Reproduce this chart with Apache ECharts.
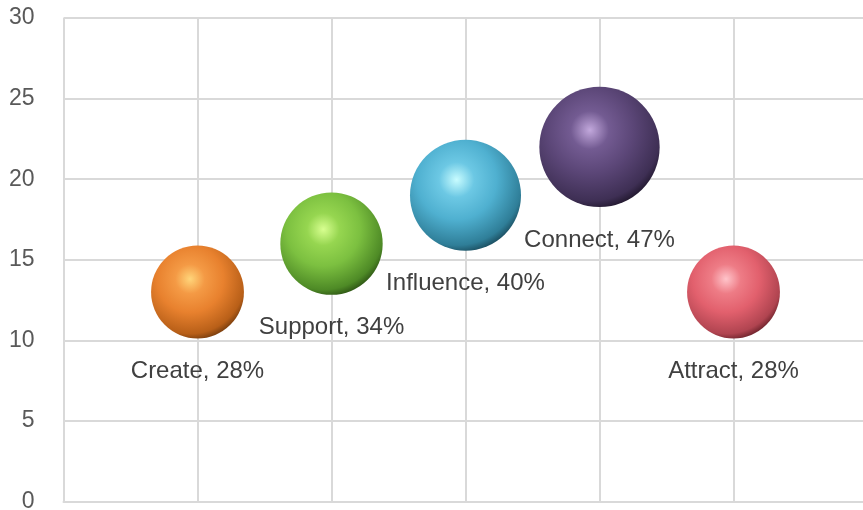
<!DOCTYPE html>
<html>
<head>
<meta charset="utf-8">
<script src="https://cdn.jsdelivr.net/npm/echarts@6/dist/echarts.min.js"></script>
<style>html,body{margin:0;padding:0;background:#fff;}#c{width:863px;height:510px;}</style>
</head>
<body>
<div id="c"></div>
<script>
var names = ['Create', 'Support', 'Influence', 'Connect', 'Attract'];
var xValues = [1, 2, 3, 4, 5];
var yValues = [13, 16, 19, 22, 13];
var sizes = [28, 34, 40, 47, 28];
var yTicks = [0, 5, 10, 15, 20, 25, 30];

var palette = [
  ['#ffd57a', '#f49a45', '#e8812e', '#b85f18', '#4a2406'],
  ['#d8ff90', '#96d650', '#7cc040', '#4e8a26', '#173008'],
  ['#c8fcff', '#6cc8e4', '#4fb0d0', '#2f7e98', '#0c2a36'],
  ['#c2a8dc', '#735b92', '#5b4677', '#3e2f54', '#0e0814'],
  ['#ffc4ca', '#ee7c86', '#e2606d', '#b04450', '#3e0c12']
];

function sphere(c) {
  return new echarts.graphic.RadialGradient(0.42, 0.36, 0.72, [
    { offset: 0, color: c[0] },
    { offset: 0.22, color: c[1] },
    { offset: 0.5, color: c[2] },
    { offset: 0.82, color: c[3] },
    { offset: 1, color: c[4] }
  ]);
}

var data = names.map(function (n, i) {
  return {
    name: n,
    value: [xValues[i], yValues[i], sizes[i]],
    itemStyle: { color: sphere(palette[i]), opacity: 1 }
  };
});

var FONT = "'Liberation Sans', Arial, sans-serif";

var chart = echarts.init(document.getElementById('c'), null, { renderer: 'canvas' });
chart.setOption({
  animation: false,
  backgroundColor: '#fff',
  grid: { left: 63.5, top: 18, bottom: 8.5, width: 804, containLabel: false, outerBoundsMode: 'none' },
  xAxis: {
    type: 'value', min: 0, max: 6, interval: 1,
    axisLine: { show: true, lineStyle: { color: '#d9d9d9', width: 2 } },
    axisTick: { show: false },
    axisLabel: { show: false },
    splitLine: { show: true, lineStyle: { color: '#d9d9d9', width: 2 } }
  },
  yAxis: {
    type: 'value', min: yTicks[0], max: yTicks[yTicks.length - 1], interval: 5,
    axisLine: { show: false },
    axisTick: { show: false },
    axisLabel: { color: '#595959', fontSize: 23, fontFamily: FONT, margin: 29 },
    splitLine: { show: true, lineStyle: { color: '#d9d9d9', width: 2 } }
  },
  series: [{
    type: 'scatter',
    data: data,
    itemStyle: { opacity: 1 },
    symbolSize: function (v) { return 17.55 * Math.sqrt(v[2]); },
    label: {
      show: true,
      position: 'bottom',
      distance: 21,
      color: '#404040',
      fontSize: 24,
      fontFamily: FONT,
      formatter: function (p) { return p.name + ', ' + p.value[2] + '%'; }
    }
  }]
});
</script>
</body>
</html>
